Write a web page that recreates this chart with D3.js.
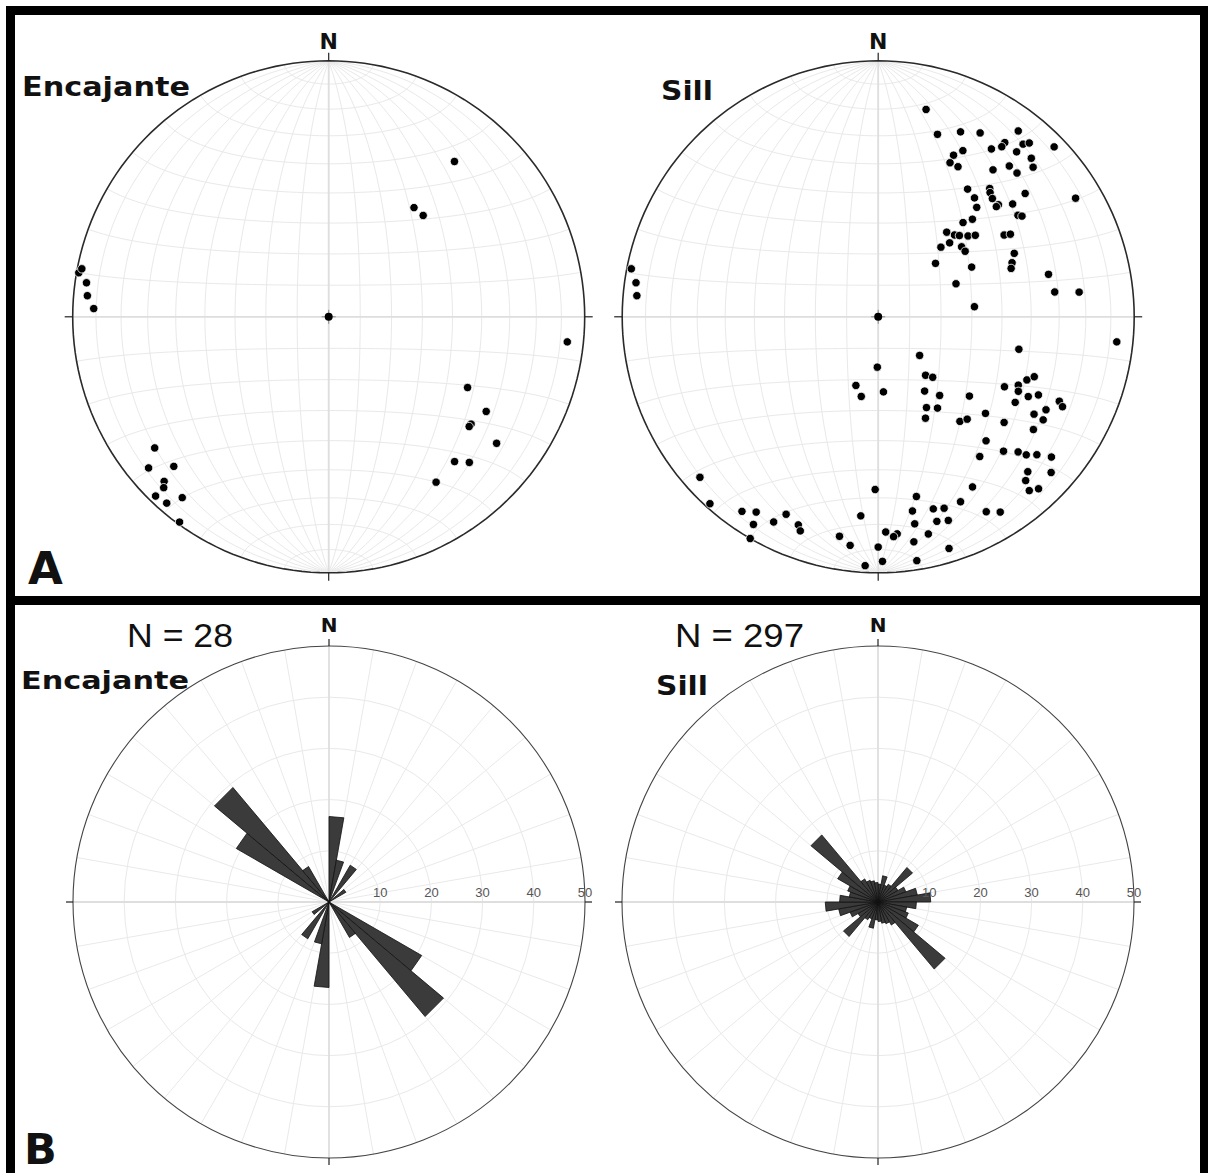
<!DOCTYPE html>
<html>
<head>
<meta charset="utf-8">
<script src="https://cdn.jsdelivr.net/npm/d3@7"></script>
<style>
  html, body { margin: 0; padding: 0; background: #fff; }
  svg { display: block; }
  .grid { fill: none; stroke: #e9e9e9; stroke-width: 1; }
  .axis-line { stroke: #dedede; stroke-width: 1.8; }
  .tick { stroke: #222; stroke-width: 1.2; }
  .primitive { fill: none; stroke: #2a2a2a; stroke-width: 1.6; }
  .rose-outline { fill: none; stroke: #444; stroke-width: 1.1; }
  .pole { fill: #000; stroke: #fff; stroke-width: 0.8; }
  .petal { fill: #3b3b3b; stroke: #111; stroke-width: 0.8; }
  .bold { font-family: "DejaVu Sans", Verdana, sans-serif; font-weight: bold; fill: #111; }
  .plain { font-family: "Liberation Sans", Arial, sans-serif; fill: #111; }
</style>
</head>
<body>
<div id="chart"></div>
<script>
// poles, lower hemisphere, [trend, plunge] in degrees
const encajantePoles = [
  [39,23],[38,45],[43,45],
  [280,1],[281,2],[278,5],[275,6],[272,9],
  [96,7],
  [117,39],[121,29],[127,31],[128,31],[127,19],[139,26],[136,22],[147,24],
  [233,16],[230,9],[226,17],[225,10],[224,8],[224,3],[219,10],[221,4],[216,1]
];

const sillPoles = [
  [13,18],[18,26],[24,22],[29,19],[37,10],[36,17],[40,13],[41,11],[46,5],[34,22],
  [36,19],[40,17],[27,28],[25,31],[25,34],[28,34],[44,15],[46,17],[38,28],[41,23],
  [44,23],[50,26],[59,11],[35,39],[41,34],[42,35],[44,36],[39,40],[42,42],[47,36],
  [47,37],[50,32],[54,33],[55,32],[44,46],[42,49],[39,55],[43,54],[45,53],[48,51],
  [50,49],[57,41],[58,39],[44,57],[42,60],[50,55],[53,55],[65,41],[68,43],[70,44],
  [47,65],[62,56],[76,32],[67,63],[82,31],[83,22],[84,59],
  [281,2],[278,5],[275,6],
  [96,7],
  [103,43],[133,72],[141,66],[138,64],[176,66],[148,62],[142,58],[131,51],[152,57],[147,55],
  [155,54],[142,47],[139,46],[132,43],[119,43],[116,39],[113,37],[111,35],[118,38],[118,34],
  [116,31],[122,37],[119,26],[122,29],[122,25],[115,23],[116,21],[130,36],[126,26],[139,36],
  [144,33],[137,29],[134,25],[133,22],[131,19],[129,14],[136,17],[132,10],[138,15],[139,11],
  [137,9],[151,25],
  [198,67],[192,64],[181,74],
  [228,7],[222,2],[215,8],[212,11],[211,6],[207,11],[205,16],[201,14],[200,12],[210,0],
  [190,14],[187,11],[185,23],[181,33],[183,3],[180,11],[179,5],[178,17],[175,16],[176,15],
  [171,12],[171,4],[170,24],[170,19],[168,29],[167,14],[164,23],[164,18],[161,22],[161,17],
  [163,6],[156,22],[151,14],[148,11]
];

// rose diagrams: 10 degree bins 0-180, percent, mirrored at +180
const roseBins = [0,10,20,30,40,50,60,70,80,90,100,110,120,130,140,150,160,170];
const encajanteRose = [16.7, 8.3, 0, 8.3, 0, 3.8, 0, 0, 0, 0, 0, 0, 20.9, 29.2, 8.0, 0, 0, 0];
const sillRose = [3.5, 5.2, 3.5, 4.0, 8.8, 4.5, 5.8, 7.8, 10.3, 7.5, 5.7, 6.3, 9.1, 17.1, 5.2, 4.5, 4.2, 3.8];
const roseTicks = [10, 20, 30, 40, 50];

const width = 1208, height = 1173;
const R = 256;
const rad = d => d * Math.PI / 180;

const svg = d3.select('#chart').append('svg')
    .attr('width', width)
    .attr('height', height);

svg.append('rect').attr('width', width).attr('height', height).attr('fill', '#fff');

// lower hemisphere line -> lon/lat on an equatorial equal-area (Schmidt) net
function poleToLonLat([trend, plunge]) {
    const t = rad(trend), p = rad(plunge);
    const x = Math.sin(p), y = Math.cos(p) * Math.sin(t), z = Math.cos(p) * Math.cos(t);
    return [Math.atan2(y, x) * 180 / Math.PI, Math.asin(z) * 180 / Math.PI];
}

function crossTicks(g, cx, cy, r0, r1) {
    const t = [[0, -1], [0, 1], [-1, 0], [1, 0]];
    g.selectAll('line.tick').data(t).join('line')
        .classed('tick', true)
        .attr('x1', d => cx + d[0] * r0).attr('y1', d => cy + d[1] * r0)
        .attr('x2', d => cx + d[0] * r1).attr('y2', d => cy + d[1] * r1);
}

function stereonet(cx, cy, poles) {
    const g = svg.append('g').classed('net', true);
    const projection = d3.geoAzimuthalEqualArea()
        .rotate([0, 0])
        .clipAngle(90)
        .scale(R / Math.SQRT2)
        .translate([cx, cy])
        .precision(0.1);
    const path = d3.geoPath(projection);

    const graticule = d3.geoGraticule()
        .extent([[-180, -90], [180, 90]])
        .step([10, 10]);
    g.append('path').datum(graticule()).classed('grid', true).attr('d', path);

    // N-S and E-W lines
    g.append('line').classed('axis-line', true)
        .attr('x1', cx - R).attr('x2', cx + R).attr('y1', cy).attr('y2', cy);
    g.append('line').classed('axis-line', true)
        .attr('x1', cx).attr('x2', cx).attr('y1', cy - R).attr('y2', cy + R);

    g.append('path').datum({type: 'Sphere'}).classed('primitive', true).attr('d', path);
    crossTicks(g, cx, cy, R, R + 8);

    // centre marker
    const c = projection([0, 0]);
    g.append('path')
        .attr('d', `M${c[0] - 7},${c[1]}H${c[0] + 7}M${c[0]},${c[1] - 7}V${c[1] + 7}`)
        .attr('stroke', '#888').attr('stroke-width', 1);
    g.append('circle').attr('cx', c[0]).attr('cy', c[1]).attr('r', 4).attr('fill', '#000');

    g.selectAll('circle.pole')
        .data(poles)
        .join('circle')
        .classed('pole', true)
        .attr('cx', d => projection(poleToLonLat(d))[0])
        .attr('cy', d => projection(poleToLonLat(d))[1])
        .attr('r', 4.2);
}

function rose(cx, cy, values) {
    const r = d3.scaleLinear().domain([0, 50]).range([0, R]);
    const g = svg.append('g').attr('transform', `translate(${cx},${cy})`);

    g.selectAll('circle.ring')
        .data(roseTicks.slice(0, -1))
        .join('circle')
        .classed('grid', true)
        .attr('r', d => r(d));

    g.selectAll('line.spoke')
        .data(d3.range(0, 360, 10).filter(a => a % 90 !== 0))
        .join('line')
        .classed('grid', true)
        .attr('x1', 0).attr('y1', 0)
        .attr('x2', a => r(50) * Math.sin(rad(a)))
        .attr('y2', a => -r(50) * Math.cos(rad(a)));

    g.append('line').classed('axis-line', true).attr('x1', -R).attr('x2', R);
    g.append('line').classed('axis-line', true).attr('y1', -R).attr('y2', R);

    g.append('circle').classed('rose-outline', true).attr('r', r(50));
    crossTicks(g, 0, 0, R, R + 7);

    const petals = roseBins.flatMap((b, i) => [
        {a0: b, a1: b + 10, v: values[i]},
        {a0: b + 180, a1: b + 190, v: values[i]}
    ]).filter(d => d.v > 0);

    const petalLine = d3.lineRadial().curve(d3.curveLinearClosed);
    g.selectAll('path.petal')
        .data(petals)
        .join('path')
        .classed('petal', true)
        .attr('d', d => petalLine([[0, 0], [rad(d.a0), r(d.v)], [rad(d.a1), r(d.v)]]));

    g.selectAll('text.scale')
        .data(roseTicks)
        .join('text')
        .attr('class', 'plain scale')
        .attr('x', d => r(d))
        .attr('y', -5)
        .attr('text-anchor', 'middle')
        .attr('font-size', 13)
        .style('fill', '#555')
        .text(d => d);
}

function label(text, x, y, size, cls, len, anchor) {
    const t = svg.append('text')
        .attr('class', cls)
        .attr('x', x).attr('y', y)
        .attr('font-size', size)
        .attr('text-anchor', anchor || 'start')
        .text(text);
    if (len) t.attr('textLength', len).attr('lengthAdjust', 'spacingAndGlyphs');
    return t;
}

// panel A
stereonet(328.7, 316.8, encajantePoles);
stereonet(878.2, 316.8, sillPoles);
label('N', 328.7, 49, 22, 'bold', null, 'middle');
label('N', 878.2, 49, 22, 'bold', null, 'middle');
label('Encajante', 22, 96, 26, 'bold', 168);
label('Sill', 661, 100, 27, 'bold', 52);
label('A', 28, 584, 45, 'bold');

// panel B
rose(329, 902, encajanteRose);
rose(878, 902, sillRose);
label('N', 329, 632, 20, 'bold', null, 'middle');
label('N', 878, 632, 20, 'bold', null, 'middle');
label('N = 28', 127, 647, 34, 'plain', 106);
label('N = 297', 675, 647, 34, 'plain', 129);
label('Encajante', 21, 689, 25, 'bold', 168);
label('Sill', 656, 695, 27, 'bold', 52);
label('B', 24, 1164, 43, 'bold');

// frame
const frame = [
    [6, 6, 1202, 9],
    [6, 596, 1202, 9],
    [6, 6, 9, 1167],
    [1200, 6, 8, 1167]
];
svg.selectAll('rect.frame').data(frame).join('rect')
    .classed('frame', true)
    .attr('x', d => d[0]).attr('y', d => d[1])
    .attr('width', d => d[2]).attr('height', d => d[3])
    .attr('fill', '#000');
</script>
</body>
</html>
